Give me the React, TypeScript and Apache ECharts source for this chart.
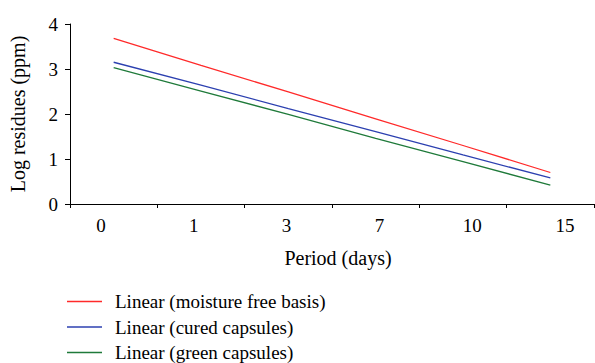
import React, { useEffect, useRef } from "react";
import * as echarts from "echarts";

const periods = ["0", "1", "3", "7", "10", "15"];
const moistureFree = [3.68, 3.08, 2.49, 1.89, 1.3, 0.7];
const cured = [3.15, 2.64, 2.12, 1.61, 1.09, 0.58];
const green = [3.03, 2.51, 1.99, 1.46, 0.94, 0.42];
const seriesNames = [
  "Linear (moisture free basis)",
  "Linear (cured capsules)",
  "Linear (green capsules)",
];
const FONT = "'Liberation Serif', 'Times New Roman', serif";

export default function App() {
  const ref = useRef<HTMLDivElement>(null);
  useEffect(() => {
    if (!ref.current) return;
    const chart = echarts.init(ref.current, undefined, { renderer: "svg" });
    const axisLine = { show: true, lineStyle: { color: "#000", width: 1 } };
    chart.setOption({
      animation: false,
      backgroundColor: "#fff",
      textStyle: { fontFamily: FONT, color: "#000" },
      grid: [
        { left: 70, right: 1, top: 24, bottom: 159 },
        { left: 101, right: 30, top: 24, bottom: 159 },
      ],
      xAxis: [
        {
          type: "category",
          gridIndex: 0,
          data: periods,
          boundaryGap: true,
          axisLine,
          axisTick: { show: true, length: 4, interval: 0, lineStyle: { color: "#000" } },
          axisLabel: { show: false },
          name: "Period (days)",
          nameLocation: "middle",
          nameGap: 44,
          nameTextStyle: { fontFamily: FONT, fontSize: 20, color: "#000", padding: [0, 0, 0, 12] },
        },
        {
          type: "category",
          gridIndex: 1,
          data: periods,
          boundaryGap: false,
          axisLine: { show: false },
          axisTick: { show: false },
          axisLabel: { show: true, interval: 0, margin: 12, fontFamily: FONT, fontSize: 19, color: "#000" },
        },
      ],
      yAxis: [
        {
          type: "value",
          gridIndex: 0,
          min: 0,
          max: 4,
          interval: 1,
          axisLine,
          axisTick: { show: true, length: 5, lineStyle: { color: "#000" } },
          splitLine: { show: false },
          axisLabel: { margin: 12, fontFamily: FONT, fontSize: 19, color: "#000" },
          name: "Log residues (ppm)",
          nameLocation: "middle",
          nameGap: 42,
          nameTextStyle: { fontFamily: FONT, fontSize: 20, color: "#000" },
        },
        { type: "value", gridIndex: 1, show: false, min: 0, max: 4 },
      ],
      legend: {
        orient: "vertical",
        left: 67,
        top: 292,
        padding: 0,
        icon: "rect",
        itemWidth: 35,
        itemHeight: 1.3,
        itemGap: 6.5,
        textStyle: { fontFamily: FONT, fontSize: 19, color: "#000", padding: [0, 0, 0, 8] },
        data: seriesNames,
      },
      series: [
        {
          name: seriesNames[0],
          type: "line",
          data: moistureFree,
          symbol: "none",
          lineStyle: { color: "#ff2a2a", width: 1.3 },
          itemStyle: { color: "#ff2a2a" },
        },
        {
          name: seriesNames[1],
          type: "line",
          data: cured,
          symbol: "none",
          lineStyle: { color: "#2c40b0", width: 1.3 },
          itemStyle: { color: "#2c40b0" },
        },
        {
          name: seriesNames[2],
          type: "line",
          data: green,
          symbol: "none",
          lineStyle: { color: "#1f7a3a", width: 1.3 },
          itemStyle: { color: "#1f7a3a" },
        },
      ],
    });
    return () => chart.dispose();
  }, []);
  return <div ref={ref} style={{ width: 595, height: 363, position: "absolute", left: 0, top: 0 }} />;
}
